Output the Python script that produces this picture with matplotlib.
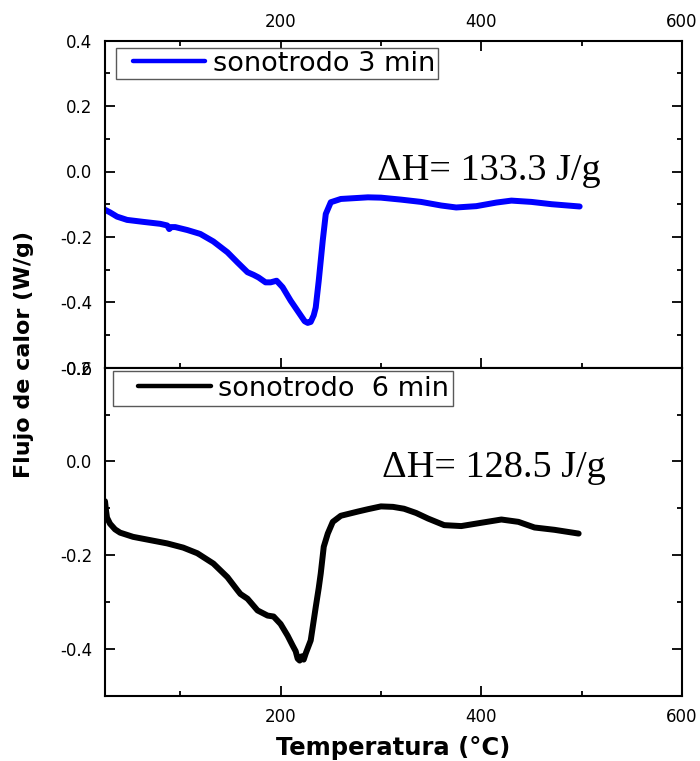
import matplotlib
matplotlib.use("Agg")
import matplotlib.pyplot as plt
from matplotlib.ticker import MultipleLocator, FormatStrFormatter, FixedLocator
from matplotlib.legend_handler import HandlerLine2D

plt.rcParams['axes.unicode_minus'] = False
plt.rcParams['font.family'] = ['DejaVu Sans']

# ---- data ----
temp_3min = [25, 30, 37, 47, 63, 80, 87, 89, 91, 95, 107, 120, 133, 147, 157, 167, 173, 178,
             185, 190, 196, 202, 210, 218, 224, 227, 230, 233, 235, 238, 242, 245, 250, 260,
             287, 300, 320, 340, 360, 375, 395, 415, 430, 450, 470, 498]
flow_3min = [-0.117, -0.125, -0.138, -0.148, -0.154, -0.160, -0.165, -0.176, -0.170, -0.170,
             -0.179, -0.191, -0.214, -0.247, -0.278, -0.308, -0.316, -0.324, -0.339, -0.339,
             -0.334, -0.354, -0.395, -0.431, -0.458, -0.463, -0.460, -0.440, -0.416, -0.334,
             -0.211, -0.130, -0.094, -0.084, -0.079, -0.080, -0.086, -0.093, -0.104, -0.110,
             -0.106, -0.095, -0.089, -0.093, -0.100, -0.107]

temp_6min = [25, 26, 27, 30, 35, 40, 53, 70, 87, 103, 117, 133, 147, 157, 160, 167, 177, 187,
             193, 200, 207, 212, 215, 217, 219, 221, 223, 225, 230, 235, 238, 240, 243, 247,
             252, 260, 277, 287, 300, 312, 323, 335, 347, 363, 380, 397, 420, 437, 453, 473, 497]
flow_6min = [-0.085, -0.105, -0.120, -0.133, -0.145, -0.152, -0.161, -0.168, -0.175, -0.184,
             -0.196, -0.218, -0.247, -0.275, -0.283, -0.293, -0.318, -0.329, -0.331, -0.347,
             -0.372, -0.393, -0.405, -0.421, -0.425, -0.416, -0.423, -0.410, -0.382, -0.311,
             -0.270, -0.239, -0.182, -0.154, -0.129, -0.116, -0.107, -0.102, -0.096, -0.097,
             -0.101, -0.110, -0.122, -0.136, -0.138, -0.132, -0.124, -0.129, -0.141, -0.146,
             -0.154]

label_3min = "sonotrodo 3 min"
label_6min = "sonotrodo  6 min"
dh_3min = "ΔH= 133.3 J/g"
dh_6min = "ΔH= 128.5 J/g"
x_label = "Temperatura (°C)"
y_label = "Flujo de calor (W/g)"
yticks_top = [-0.6, -0.4, -0.2, 0.0, 0.2, 0.4]
yticks_bottom = [-0.4, -0.2, 0.0, 0.2]
xticks = [200, 400, 600]

# ---- figure ----
fig = plt.figure(figsize=(7.0, 7.61), dpi=100)
W, H = 700.0, 761.0
left, right = 105 / W, 682 / W
y_top, y_mid, y_bot = 40.7, 367.7, 695.7
ax1 = fig.add_axes([left, 1 - y_mid / H, right - left, (y_mid - y_top) / H])
ax2 = fig.add_axes([left, 1 - y_bot / H, right - left, (y_bot - y_mid) / H], sharex=ax1)

line1, = ax1.plot(temp_3min, flow_3min, color='#0000ff', lw=4.3, solid_joinstyle='round',
                  solid_capstyle='round')
line2, = ax2.plot(temp_6min, flow_6min, color='black', lw=4.3, solid_joinstyle='round',
                  solid_capstyle='round')

ax1.set_xlim(25, 600)
ax1.set_ylim(-0.6, 0.4)
ax2.set_ylim(-0.5, 0.2)

for ax in (ax1, ax2):
    for sp in ax.spines.values():
        sp.set_linewidth(1.5)
    ax.xaxis.set_major_locator(FixedLocator(xticks))
    ax.xaxis.set_minor_locator(FixedLocator([100, 300, 500]))
    ax.yaxis.set_minor_locator(MultipleLocator(0.1))
    ax.yaxis.set_major_formatter(FormatStrFormatter('%.1f'))
    ax.tick_params(which='both', direction='in', width=1.3, labelsize=12)
    ax.tick_params(which='major', length=7)
    ax.tick_params(which='minor', length=3.5)
    ax.tick_params(axis='y', which='both', left=True, right=True, labelleft=True,
                   labelright=False, pad=9)

ax1.yaxis.set_major_locator(FixedLocator(yticks_top))
ax2.yaxis.set_major_locator(FixedLocator(yticks_bottom))

ax1.tick_params(axis='x', which='both', top=True, bottom=True, labeltop=True,
                labelbottom=False, pad=7)
ax2.tick_params(axis='x', which='both', top=False, bottom=True, labeltop=False,
                labelbottom=True, pad=8.5)


def thin_legend_line(legend_handle, orig_handle):
    legend_handle.update_from(orig_handle)
    legend_handle.set_linewidth(3.2)


fs_leg = 19.5
leg1 = ax1.legend([line1], [label_3min], loc='upper left', bbox_to_anchor=(0.019, 0.978),
                  borderaxespad=0, fontsize=fs_leg, numpoints=2, handlelength=3.7,
                  handletextpad=-0.2, borderpad=0.1, fancybox=False, framealpha=1,
                  edgecolor='0.35',
                  handler_map={line1: HandlerLine2D(marker_pad=0.53, numpoints=2,
                                                    update_func=thin_legend_line)})
leg1.get_frame().set_linewidth(1.0)

leg2 = ax2.legend([line2], [label_6min], loc='upper left', bbox_to_anchor=(0.014, 0.99),
                  borderaxespad=0, fontsize=fs_leg, numpoints=2, handlelength=4.2,
                  handletextpad=-0.51, borderpad=0.17, fancybox=False, framealpha=1,
                  edgecolor='0.35',
                  handler_map={line2: HandlerLine2D(marker_pad=0.76, numpoints=2,
                                                    update_func=thin_legend_line)})
leg2.get_frame().set_linewidth(1.0)

ax1.text(0.471, 0.574, dh_3min, transform=ax1.transAxes, ha='left', va='baseline',
         family='Liberation Serif', fontsize=27.5)
ax2.text(0.480, 0.667, dh_6min, transform=ax2.transAxes, ha='left', va='baseline',
         family='Liberation Serif', fontsize=27.5)

ax2.set_xlabel(x_label, fontsize=17.5, fontweight='bold', va='baseline')
ax2.xaxis.set_label_coords(0.5, (y_bot - 755) / (y_bot - y_mid))

fig.supylabel(y_label, x=0.02, y=1 - 355 / H, ha='left', va='center',
              fontsize=16, fontweight='bold')

fig.savefig('out.png', dpi=100)
